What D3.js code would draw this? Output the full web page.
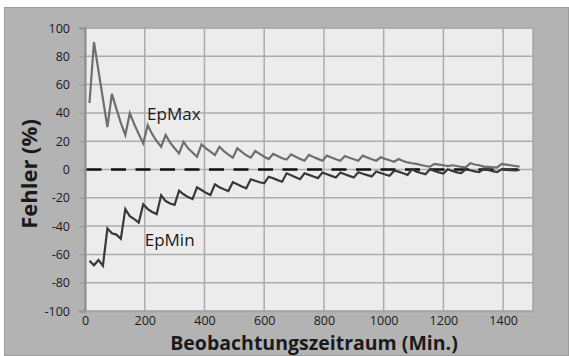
<!DOCTYPE html>
<html>
<head>
<meta charset="utf-8">
<script src="https://cdn.jsdelivr.net/npm/d3@7"></script>
<style>
  body { margin: 0; background: #fff; }
  #vis { width: 569px; height: 356px; }
  text { font-family: "Open Sans", sans-serif; fill: #1a1a1a; }
</style>
</head>
<body>
<div id="vis"></div>
<script>
// observation times (minutes)
var minutes = [15, 30, 45, 60, 75, 90, 105, 120, 135, 150, 165, 180, 195, 210, 225, 240,
    255, 270, 285, 300, 315, 330, 345, 360, 375, 390, 405, 420, 435, 450, 465, 480,
    495, 510, 525, 540, 555, 570, 585, 600, 615, 630, 645, 660, 675, 690, 705, 720,
    735, 750, 765, 780, 795, 810, 825, 840, 855, 870, 885, 900, 915, 930, 945, 960,
    975, 990, 1005, 1020, 1035, 1050, 1065, 1080, 1095, 1110, 1125, 1140, 1155, 1170, 1185, 1200,
    1215, 1230, 1245, 1260, 1275, 1290, 1305, 1320, 1335, 1350, 1365, 1380, 1395, 1410, 1425, 1440, 1455];

var epMax = [47, 90, 70, 50, 30, 53.4, 43, 33, 24.4, 39.7, 32, 25, 18.5, 31.4, 25, 20,
    16.1, 24.4, 19, 15, 11.4, 19.6, 15, 12, 9, 17.8, 15, 12.6, 10.2, 16.1, 13, 10.5,
    8.4, 15, 12.5, 10, 8.4, 13, 11, 9, 7.4, 11, 9.5, 8, 7, 10.7, 9, 7.5,
    6.2, 10.3, 8.8, 7.5, 6.2, 9.8, 8.5, 7.3, 6.2, 9.5, 8.3, 7.2, 6.2, 9.8, 8.5, 7.3,
    6.2, 8.6, 7.5, 6.5, 5.5, 7.4, 6, 5, 4.4, 4, 3.2, 2.5, 2, 4, 3.5, 3,
    2.4, 3, 2.5, 1.8, 1.5, 4.4, 3.5, 3, 2, 1.8, 1.5, 1.5, 4, 3.5, 3, 2.5, 2];

var epMin = [-64.5, -67.7, -64, -68, -41.6, -45, -46, -49, -28, -33, -35, -37.5, -24.6, -28, -30, -31.5,
    -18.2, -22.3, -24, -25, -15, -17.5, -19.5, -20.8, -12.6, -14.5, -16.5, -18, -10.5, -12.5, -14, -15.2,
    -9, -10.5, -12, -13.3, -6.9, -8, -9, -9.8, -5.1, -6.2, -7.5, -8.6, -2.7, -4, -5.5, -6.9,
    -2.7, -3.8, -5, -6.1, -2.2, -3.3, -4.5, -5.6, -2.2, -3.3, -4.5, -5.6, -1.9, -3, -4, -4.9,
    -1.4, -2.5, -3.5, -4.4, -0.9, -1.5, -2.7, -3.8, 0.2, -1.5, -2.5, -3.3, 0.2, -1, -2, -2.8,
    0.2, -1, -2, -2.6, 0.3, -0.5, -1.3, -1.9, 0.5, -0.3, -1.2, -1.9, 0.2, -0.3, -0.5, -0.7, -0.3];

var zeroLine = [[5, 0], [1460, 0]];

var xTicks = [0, 200, 400, 600, 800, 1000, 1200, 1400];
var yTicks = [-100, -80, -60, -40, -20, 0, 20, 40, 60, 80, 100];

var width = 569,
    height = 356;

var margin = {
    top: 28,
    bottom: 45,
    left: 85,
    right: 36
};

var svg = d3.select('#vis')
    .append('svg')
    .attr('width', width)
    .attr('height', height);

// chart area background
svg.append('rect')
    .attr('x', 4.5)
    .attr('y', 7.5)
    .attr('width', width - 5)
    .attr('height', height - 8)
    .attr('fill', '#b3b3b3')
    .attr('stroke', '#9c9c9c');

var g = svg.append('g')
    .attr('transform', 'translate(' + margin.left + ',' + margin.top + ')');

var w = width - margin.left - margin.right;
var h = height - margin.top - margin.bottom;

var x_scale = d3.scaleLinear()
    .domain([0, 1500])
    .range([0, w]);

var y_scale = d3.scaleLinear()
    .domain([-100, 100])
    .range([h, 0]);

// plot area
g.append('rect')
    .attr('width', w)
    .attr('height', h)
    .attr('fill', '#ececec')
    .attr('stroke', '#a4a4a4')
    .attr('stroke-width', 1.5);

// gridlines
g.selectAll('.vgrid')
    .data(xTicks.slice(1))
    .enter()
    .append('line')
    .attr('class', 'vgrid')
    .attr('x1', function(d) { return x_scale(d); })
    .attr('x2', function(d) { return x_scale(d); })
    .attr('y1', 0)
    .attr('y2', h)
    .attr('stroke', '#acacac')
    .attr('stroke-width', 1.5);

g.selectAll('.hgrid')
    .data(yTicks.slice(1))
    .enter()
    .append('line')
    .attr('class', 'hgrid')
    .attr('x1', 0)
    .attr('x2', w)
    .attr('y1', function(d) { return y_scale(d); })
    .attr('y2', function(d) { return y_scale(d); })
    .attr('stroke', '#acacac')
    .attr('stroke-width', 1.5);

// axes (plain hyphen, no thousands separator)
var plain = function(d) { return String(d); };

var y_axis = d3.axisLeft(y_scale)
    .tickValues(yTicks)
    .tickFormat(plain)
    .tickSize(6)
    .tickPadding(9);

var x_axis = d3.axisBottom(x_scale)
    .tickValues(xTicks)
    .tickFormat(plain)
    .tickSize(0)
    .tickPadding(5);

g.append('g')
    .attr('class', 'y axis')
    .call(y_axis);

g.append('g')
    .attr('class', 'x axis')
    .attr('transform', 'translate(0,' + h + ')')
    .call(x_axis);

g.selectAll('.y.axis .domain')
    .attr('stroke', '#8a8a8a')
    .attr('stroke-width', 2);
g.selectAll('.y.axis .tick line')
    .attr('stroke', '#9a9a9a')
    .attr('stroke-width', 1.2);
g.selectAll('.x.axis .domain')
    .attr('stroke', '#a4a4a4')
    .attr('stroke-width', 1.5);
g.selectAll('.axis .tick text')
    .style('font-size', '12.5px')
    .style('font-family', '"Open Sans", sans-serif')
    .attr('fill', '#1a1a1a');

// zero line
var line = d3.line()
    .x(function(d) { return x_scale(d[0]); })
    .y(function(d) { return y_scale(d[1]); });

g.append('path')
    .datum(zeroLine)
    .attr('d', line)
    .attr('fill', 'none')
    .attr('stroke', '#111')
    .attr('stroke-width', 2.6)
    .attr('stroke-dasharray', '15,9.5');

// series
var maxData = minutes.map(function(m, i) { return [m, epMax[i]]; });
var minData = minutes.map(function(m, i) { return [m, epMin[i]]; });

g.append('path')
    .datum(maxData)
    .attr('d', line)
    .attr('fill', 'none')
    .attr('stroke', '#6e6e6e')
    .attr('stroke-width', 2.2);

g.append('path')
    .datum(minData)
    .attr('d', line)
    .attr('fill', 'none')
    .attr('stroke', '#383838')
    .attr('stroke-width', 2.2);

// series labels
g.append('text')
    .attr('x', x_scale(208))
    .attr('y', y_scale(35))
    .style('font-size', '17px')
    .text('EpMax');

g.append('text')
    .attr('x', x_scale(200))
    .attr('y', y_scale(-54))
    .style('font-size', '17px')
    .text('EpMin');

// axis titles
svg.append('text')
    .attr('transform', 'translate(37,174) rotate(-90)')
    .style('text-anchor', 'middle')
    .style('font-size', '22px')
    .style('font-weight', 'bold')
    .text('Fehler (%)');

svg.append('text')
    .attr('x', 314)
    .attr('y', 350)
    .style('text-anchor', 'middle')
    .style('font-size', '19.5px')
    .style('font-weight', 'bold')
    .text('Beobachtungszeitraum (Min.)');
</script>
</body>
</html>
